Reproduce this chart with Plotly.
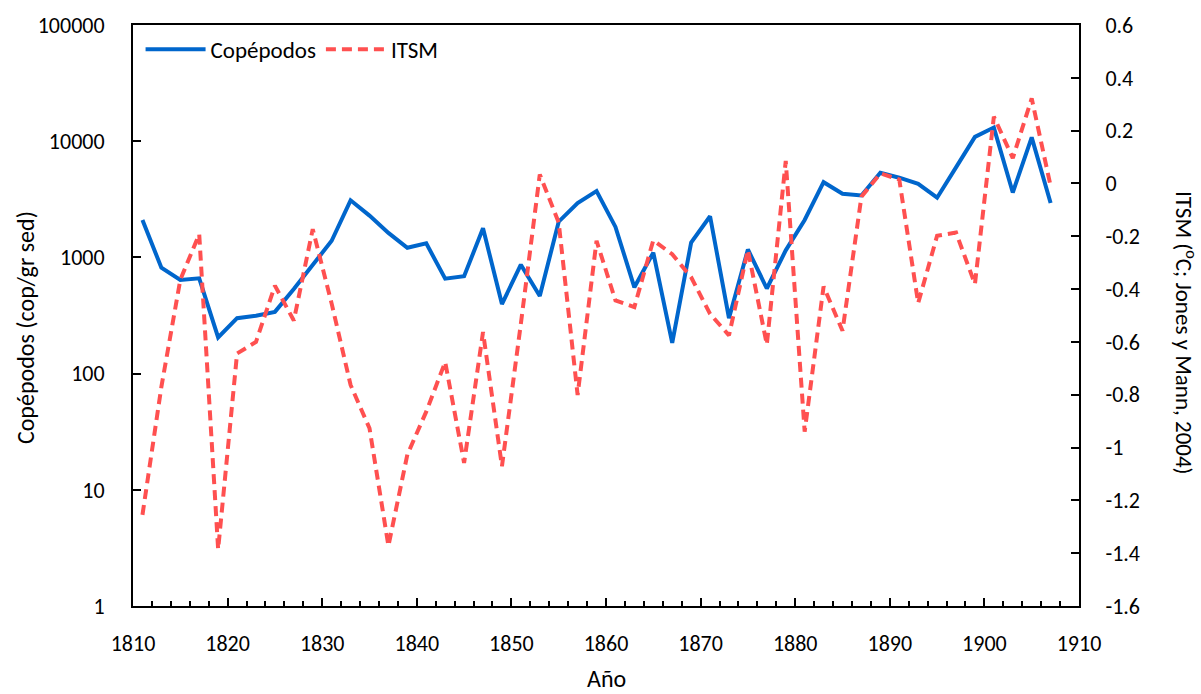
import plotly.graph_objects as go

years = [1811, 1813, 1815, 1817, 1819, 1821, 1823, 1825, 1827, 1829,
         1831, 1833, 1835, 1837, 1839, 1841, 1843, 1845, 1847, 1849,
         1851, 1853, 1855, 1857, 1859, 1861, 1863, 1865, 1867, 1869,
         1871, 1873, 1875, 1877, 1879, 1881, 1883, 1885, 1887, 1889,
         1891, 1893, 1895, 1897, 1899, 1901, 1903, 1905, 1907]

copepodos = [2100, 815, 640, 660, 205, 300, 315, 340, 535, 855,
             1390, 3100, 2290, 1625, 1210, 1320, 656, 688, 1780, 397,
             865, 465, 2030, 2940, 3720, 1830, 553, 1100, 184, 1340,
             2260, 300, 1170, 540, 1150, 2100, 4440, 3535, 3410, 5350,
             4850, 4300, 3265, 5960, 10900, 13100, 3620, 10780, 2940]

itsm = [-1.255, -0.77, -0.365, -0.192, -1.385, -0.644, -0.600, -0.387, -0.519, -0.173,
        -0.455, -0.763, -0.927, -1.372, -1.027, -0.864, -0.676, -1.058, -0.563, -1.071,
        -0.531, 0.034, -0.148, -0.801, -0.217, -0.443, -0.468, -0.215, -0.268, -0.355,
        -0.494, -0.575, -0.252, -0.61, 0.085, -0.94, -0.39, -0.558, -0.05, 0.038,
        0.015, -0.453, -0.198, -0.186, -0.381, 0.253, 0.096, 0.322, -0.010]

x_ticks = [1810, 1820, 1830, 1840, 1850, 1860, 1870, 1880, 1890, 1900, 1910]
y_ticks = [1, 10, 100, 1000, 10000, 100000]
y_ticktext = ["1", "10", "100", "1000", "10000", "100000"]
y2_ticks = [0.6, 0.4, 0.2, 0, -0.2, -0.4, -0.6, -0.8, -1.0, -1.2, -1.4, -1.6]
y2_ticktext = ["0.6", "0.4", "0.2", "0", "-0.2", "-0.4", "-0.6", "-0.8", "-1", "-1.2", "-1.4", "-1.6"]

FONT = "Carlito, Lato, sans-serif"
TICK = 22
TITLE = 24

fig = go.Figure()
fig.add_trace(go.Scatter(x=years, y=copepodos, name="Copépodos", mode="lines",
                         line=dict(color="#0066CC", width=4), yaxis="y"))
fig.add_trace(go.Scatter(x=years, y=itsm, name="ITSM", mode="lines",
                         line=dict(color="#FF5050", width=4, dash="10px,6px"), yaxis="y2"))

fig.update_layout(
    width=1201, height=694,
    margin=dict(l=133, r=122, t=23, b=88),
    paper_bgcolor="white", plot_bgcolor="white",
    font=dict(family=FONT, size=TICK, color="black"),
    showlegend=True,
    legend=dict(orientation="h", x=0.008, y=0.995, xanchor="left", yanchor="top",
                bgcolor="rgba(0,0,0,0)", font=dict(size=23, family=FONT),
                itemwidth=60, tracegroupgap=0),
    xaxis=dict(range=[1810, 1910], tickvals=x_ticks, ticks="inside", ticklen=8, tickwidth=2,
               tickcolor="black", showline=True, linecolor="black", linewidth=2, mirror=True,
               showgrid=False, zeroline=False, ticklabelstandoff=17,
               tickfont=dict(size=TICK),
               minor=dict(dtick=2, ticks="inside", ticklen=5, tickwidth=1.5, tickcolor="black", showgrid=False)),
    yaxis=dict(type="log", range=[0, 5], tickvals=y_ticks, ticktext=y_ticktext,
               ticks="inside", ticklen=8, tickwidth=2, tickcolor="black",
               showline=True, linecolor="black", linewidth=2, showgrid=False, zeroline=False,
               ticklabelstandoff=22, tickfont=dict(size=TICK)),
    yaxis2=dict(overlaying="y", side="right", range=[-1.6, 0.6], tickvals=y2_ticks, ticktext=y2_ticktext,
                ticks="inside", ticklen=8, tickwidth=2, tickcolor="black",
                showline=True, linecolor="black", linewidth=2, showgrid=False, zeroline=False,
                ticklabelstandoff=20, tickfont=dict(size=TICK)),
)

fig.add_annotation(text="Año", xref="paper", yref="paper", x=0.5, y=-0.125,
                   showarrow=False, xanchor="center", yanchor="middle",
                   font=dict(size=TITLE, family=FONT, color="black"))
fig.add_annotation(text="Copépodos (cop/gr sed)", xref="paper", yref="paper",
                   x=-0.1142, y=0.48, textangle=-90, showarrow=False,
                   xanchor="center", yanchor="middle",
                   font=dict(size=TITLE, family=FONT, color="black"))
fig.add_annotation(text="ITSM (<sup>o</sup>C; Jones y Mann, 2004)", xref="paper", yref="paper",
                   x=1.112, y=0.47, textangle=90, showarrow=False,
                   font=dict(size=23, family=FONT, color="black"), xanchor="center", yanchor="middle")

fig.write_html("out.html")
